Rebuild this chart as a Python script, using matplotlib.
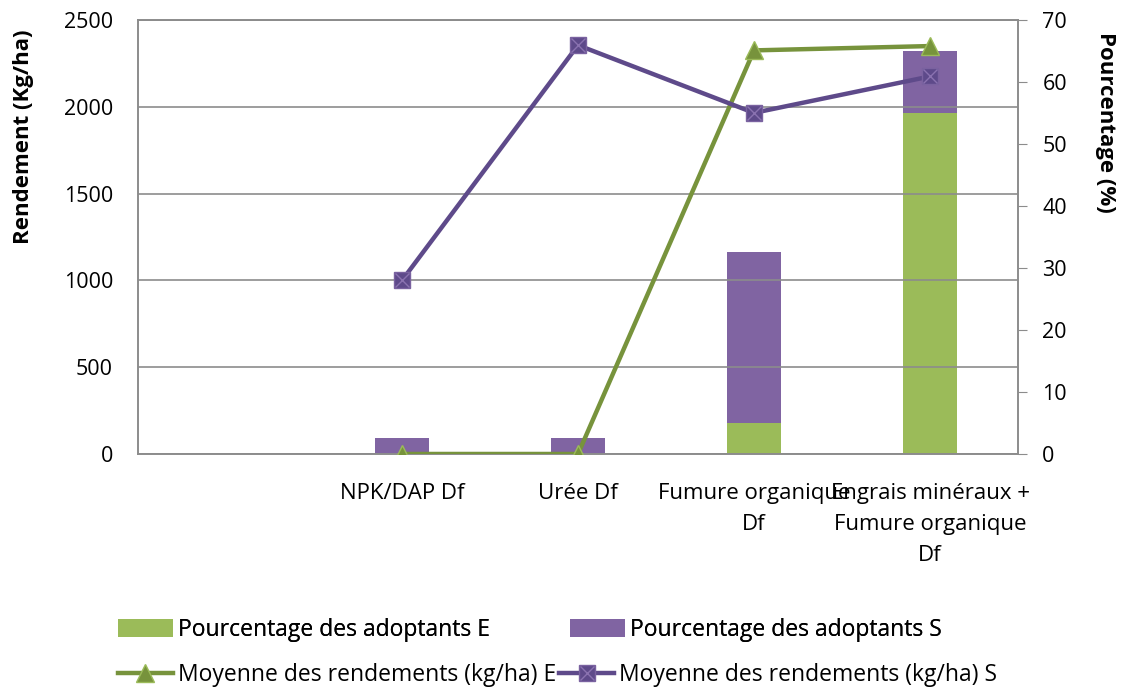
import matplotlib.pyplot as plt
from matplotlib.legend_handler import HandlerTuple
import numpy as np

plt.rcParams['font.family'] = ['Open Sans', 'DejaVu Sans']

categories = ["", "NPK/DAP Df", "Urée Df", "Fumure organique\nDf",
              "Engrais minéraux +\nFumure organique\nDf"]
pct_e = [0, 0, 0, 5, 55]          # Pourcentage des adoptants E (%)
pct_s = [0, 2.5, 2.5, 27.5, 10]   # Pourcentage des adoptants S (%)
rend_e = [np.nan, 0, 0, 2325, 2350]     # Moyenne des rendements E (kg/ha)
rend_s = [np.nan, 1000, 2355, 1965, 2175]  # Moyenne des rendements S (kg/ha)

green_bar, purple_bar = "#9BBB59", "#8064A2"
green_line, purple_line = "#77933C", "#5E4A8A"
grid_col = "#8C8C8C"

fig = plt.figure(figsize=(11.33, 6.95), dpi=100)
ax = fig.add_axes([0.1218, 0.3468, 0.7767, 0.6244])
ax2 = ax.twinx()

x = np.arange(len(categories))

# bars on the right (percentage) axis
b1 = ax2.bar(x, pct_e, width=0.31, color=green_bar, zorder=2)
b2 = ax2.bar(x, pct_s, width=0.31, bottom=pct_e, color=purple_bar, zorder=2)
ax2.set_ylim(0, 70)
ax2.set_yticks(range(0, 71, 10))

# lines on the left (yield) axis, drawn above the bars
ax.set_zorder(ax2.get_zorder() + 1)
ax.patch.set_visible(False)
l1, = ax.plot(x, rend_e, color=green_line, lw=3.2, marker="^", ms=13,
              mfc=green_line, mec="#9BBB59", mew=1, zorder=3)
l2, = ax.plot(x, rend_s, color=purple_line, lw=3.2, marker="s", ms=11,
              mfc=purple_line, mec="#7A62A0", mew=1, zorder=3)
l2x, = ax.plot(x, rend_s, lw=0, marker="x", ms=10, mec="#8A72B0",
               mew=1, zorder=4)
ax.set_ylim(0, 2500)
ax.set_yticks(range(0, 2501, 500))
ax.set_xlim(-0.5, len(categories) - 0.5)
ax.set_xticks(x)
ax.set_xticklabels(categories, fontsize=16, linespacing=1.62)
ax.grid(axis="y", color=grid_col, lw=1.2)
ax.set_axisbelow(True)

for a in (ax, ax2):
    for s in a.spines.values():
        s.set_color(grid_col)
        s.set_linewidth(1.2)
ax.tick_params(axis="y", length=0, labelsize=15.5, pad=18)
ax.tick_params(axis="x", length=0, pad=21)
ax2.tick_params(axis="y", length=6.5, color=grid_col, labelsize=15.5, pad=11)

ax.set_ylabel("Rendement (Kg/ha)", fontsize=16, fontweight="bold")
ax.yaxis.set_label_coords(-0.118, 0.73)
ax2.set_ylabel("Pourcentage (%)", fontsize=16, fontweight="bold",
               rotation=-90, va="center")
ax2.yaxis.set_label_coords(1.099, 0.763)

leg1 = fig.legend([b1, b2], ["Pourcentage des adoptants E",
                              "Pourcentage des adoptants S"],
                  ncol=2, loc="center left", bbox_to_anchor=(0.104, 0.094),
                  frameon=False, fontsize=16.5, handlelength=2.4,
                  handleheight=0.85, handletextpad=0.22, columnspacing=3.5,
                  borderpad=0, borderaxespad=0)
fig.add_artist(leg1)
fig.legend([l1, (l2, l2x)], ["Moyenne des rendements (kg/ha) E",
                             "Moyenne des rendements (kg/ha) S"],
           handler_map={tuple: HandlerTuple(ndivide=1)},
           ncol=2, loc="center left", bbox_to_anchor=(0.104, 0.029),
           frameon=False, fontsize=16.5, handlelength=2.4,
           handletextpad=0.22, columnspacing=0.13,
           borderpad=0, borderaxespad=0)

fig.savefig("out.png", dpi=100)
